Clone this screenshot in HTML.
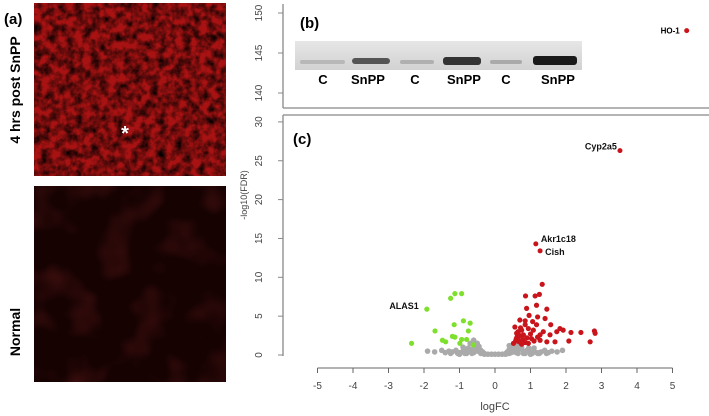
<!DOCTYPE html>
<html><head><meta charset="utf-8"><style>
body{margin:0;background:#fff;width:709px;height:416px;overflow:hidden;font-family:"Liberation Sans",sans-serif}
svg{display:block}
</style></head><body>
<svg id="fig" width="709" height="416">
<defs>
<filter id="tex1" x="0" y="0" width="100%" height="100%">
<feTurbulence type="fractalNoise" baseFrequency="0.12" numOctaves="3" seed="4"/>
<feColorMatrix type="matrix" values="0 0 0 0 0  0 0 0 0 0  0 0 0 0 0  1.8 0 0 0 -0.6"/>
</filter>
<filter id="tex2" x="0" y="0" width="100%" height="100%">
<feTurbulence type="fractalNoise" baseFrequency="0.03" numOctaves="2" seed="9"/>
<feColorMatrix type="matrix" values="0 0 0 0 0.25  0 0 0 0 0.02  0 0 0 0 0.02  0.8 0 0 0 -0.4"/>
</filter>
<linearGradient id="blot" x1="0" y1="0" x2="0" y2="1">
<stop offset="0" stop-color="#e6e6e6"/><stop offset="1" stop-color="#d2d2d2"/>
</linearGradient>
</defs>
<text x="4" y="24" font-size="15" font-weight="bold">(a)</text>
<text transform="translate(20,90) rotate(-90)" text-anchor="middle" font-size="14" font-weight="bold">4 hrs post SnPP</text>
<text transform="translate(20,332) rotate(-90)" text-anchor="middle" font-size="14" font-weight="bold">Normal</text>
<g>
<rect x="34" y="3" width="192" height="173" fill="#a81212"/>
<rect x="34" y="3" width="192" height="173" fill="#2a0000" filter="url(#tex1)"/>
<text x="125" y="140" fill="#fff" font-size="20" font-weight="bold" text-anchor="middle">*</text>
</g>
<g>
<rect x="34" y="186" width="192" height="196" fill="#170202"/>
<rect x="34" y="186" width="192" height="196" filter="url(#tex2)"/>
</g>
<g id="axes"></g>
<g>
<rect x="295" y="41" width="287" height="29" fill="url(#blot)"/>
<rect x="300" y="60" width="45" height="4" fill="#b8b8b8" rx="2"/>
<rect x="352" y="58" width="38" height="6" fill="#555" rx="3"/>
<rect x="400" y="60" width="34" height="4" fill="#b0b0b0" rx="2"/>
<rect x="443" y="57" width="38" height="8" fill="#333" rx="3"/>
<rect x="490" y="60" width="32" height="4" fill="#aaa" rx="2"/>
<rect x="533" y="56" width="44" height="9" fill="#1a1a1a" rx="3"/>
</g>
<g font-size="13" font-weight="bold" text-anchor="middle">
<text x="323" y="84">C</text><text x="368" y="84">SnPP</text><text x="415" y="84">C</text><text x="464" y="84">SnPP</text><text x="506" y="84">C</text><text x="558" y="84">SnPP</text>
</g>
<text x="300" y="28" font-size="15" font-weight="bold">(b)</text>
<text x="293" y="144" font-size="15" font-weight="bold">(c)</text>
<g id="pts"></g>
</svg>
<script>
const xTicks=[-5,-4,-3,-2,-1,0,1,2,3,4,5];
const yTicks=[0,5,10,15,20,25,30];
const yTicksTop=[140,145,150];
const greenX=[-2.35,-1.92,-1.69,-1.48,-1.39,-1.25,-1.13,-0.94,-1.15,-0.89,-0.70,-0.75,-1.20,-1.13,-0.80,-0.99,-0.61,-0.94];
const greenY=[1.5,5.9,3.1,1.9,1.7,7.3,7.9,7.9,3.9,4.4,4.1,3.1,2.4,2.3,2.0,1.5,1.3,2.0];
const redX=[1.33,0.86,1.13,1.25,1.17,1.46,0.89,0.96,1.20,1.41,0.70,0.85,1.06,1.17,1.57,1.83,1.92,2.14,2.42,2.80,2.82,2.08,2.68,1.69,1.46,1.27,1.03,0.66,0.61,0.75,0.94,1.08,1.36,1.55,0.80,0.56,0.68,0.94,0.52,0.85,1.27,1.74,0.62,0.70,0.78,0.65,0.72,0.90,1.00,0.58,0.85,1.10,1.20,0.60,0.75];
const redY=[9.1,7.6,7.6,7.8,6.4,5.9,6.0,5.1,4.9,4.7,4.5,4.4,4.3,3.9,3.9,3.4,3.2,2.9,2.9,3.1,2.8,1.8,1.7,1.7,1.7,1.9,2.1,1.9,2.8,3.2,3.4,3.2,3.0,2.6,2.6,3.6,1.7,1.5,1.5,3.9,2.6,3.0,2.3,2.5,2.0,3.0,3.5,2.2,2.7,1.8,1.6,1.8,2.3,2.1,1.4];
const greyX=[-1.9,-1.7,-1.5,-1.4,-1.3,-1.2,-1.1,-1.0,-0.9,-0.8,-0.7,-0.6,-0.55,-0.5,-0.45,-0.4,-0.35,-0.3,-0.2,-0.1,0,0.1,0.2,0.3,0.35,0.4,0.45,0.5,0.55,0.6,0.7,0.8,0.9,1.0,1.1,1.2,1.3,1.4,1.5,1.6,1.75,1.9,-1.0,-0.8,-0.6,-0.5,-0.4,-0.3,0.3,0.4,0.5,0.6,0.8,1.0,1.2,-0.7,-0.6,0.45,0.55,0.65,-0.9,-0.5,0.4,0.7,1.1,-1.25,-1.05,-0.85,-0.65,0.65,0.85,1.05,1.25,1.45,-0.75,0.75,0.95];
const greyY=[0.5,0.4,0.6,0.3,0.5,0.4,0.6,0.3,0.5,0.7,0.5,0.9,1.2,1.5,1.1,0.6,0.4,0.2,0.1,0.1,0.1,0.1,0.1,0.2,0.4,0.7,1.0,1.3,1.5,1.1,0.8,0.5,0.6,0.4,0.5,0.3,0.4,0.6,0.3,0.5,0.4,0.6,0.1,0.2,0.3,0.5,0.2,0.1,0.1,0.2,0.4,0.3,0.2,0.1,0.2,1.5,1.9,0.3,0.8,0.6,1.0,0.8,1.2,1.3,0.9,0.2,0.2,0.2,0.2,0.2,0.2,0.2,0.2,0.2,0.9,1.0,0.9];
const hoX=[5.4], hoY=[147.8];
const labelNames=["Cyp2a5","Akr1c18","Cish","ALAS1"];
const labelX=[3.52,1.15,1.27,-1.92];
const labelY=[26.3,14.3,13.4,5.9];
const NS="http://www.w3.org/2000/svg";
const xs=v=>495+v*35.5;
const ys=v=>355-v*7.77;
const yt=v=>93-(v-140)*8;
const ax=document.getElementById('axes'), pts=document.getElementById('pts');
function mk(tag,attrs,parent){const e=document.createElementNS(NS,tag);for(const k in attrs)e.setAttribute(k,attrs[k]);parent.appendChild(e);return e;}
mk('line',{x1:283,y1:4,x2:283,y2:108,stroke:'#888','stroke-width':1.3},ax);
mk('line',{x1:283,y1:108,x2:709,y2:108,stroke:'#888','stroke-width':1.3},ax);
mk('line',{x1:283,y1:115,x2:709,y2:115,stroke:'#888','stroke-width':1.3},ax);
const ya=mk('line',{x1:283,y1:115,x2:283,y2:356,stroke:'#888','stroke-width':1.3},ax);

const xa=mk('line',{x1:xs(-5),y1:368,x2:xs(5),y2:368,stroke:'#666','stroke-width':1},ax);

xTicks.forEach(t=>{
 mk('line',{x1:xs(t),y1:368,x2:xs(t),y2:373,stroke:'#666'},ax);
 const tx=mk('text',{x:xs(t),y:389,'font-size':10,'text-anchor':'middle',fill:'#444'},ax);tx.textContent=t;
 
});
yTicks.forEach(t=>{
 mk('line',{x1:278,y1:ys(t),x2:283,y2:ys(t),stroke:'#888'},ax);
 const tx=mk('text',{transform:`translate(262,${ys(t)}) rotate(-90)`,'font-size':10,'text-anchor':'middle',fill:'#444'},ax);tx.textContent=t;
 
});
yTicksTop.forEach(t=>{
 mk('line',{x1:278,y1:yt(t),x2:283,y2:yt(t),stroke:'#888'},ax);
 const tx=mk('text',{transform:`translate(262,${yt(t)}) rotate(-90)`,'font-size':10,'text-anchor':'middle',fill:'#444'},ax);tx.textContent=t;
 
});
const yl=mk('text',{transform:'translate(247,195) rotate(-90)','font-size':9,'text-anchor':'middle',fill:'#444'},ax);yl.textContent='-log10(FDR)';

const xl=mk('text',{x:495,y:410,'font-size':11,'text-anchor':'middle',fill:'#444'},ax);xl.textContent='logFC';

greyX.forEach((v,i)=>{const c=mk('circle',{cx:xs(v),cy:ys(greyY[i]),r:2.8,fill:'#aaa'},pts);
 });
greenX.forEach((v,i)=>{const c=mk('circle',{cx:xs(v),cy:ys(greenY[i]),r:2.6,fill:'#7ee02c'},pts);
 });
redX.forEach((v,i)=>{const c=mk('circle',{cx:xs(v),cy:ys(redY[i]),r:2.6,fill:'#c8141a'},pts);
 });
labelNames.forEach((n,i)=>{
 if(i<3){const c=mk('circle',{cx:xs(labelX[i]),cy:ys(labelY[i]),r:2.5,fill:'#c8141a'},pts);
  }
 const off=[[-3,-1,'end'],[5,-2,'start'],[5,4,'start'],[-8,0,'end']][i];
 const t=mk('text',{x:xs(labelX[i])+off[0],y:ys(labelY[i])+off[1],'font-size':9,'font-weight':'bold','text-anchor':off[2],fill:'#111'},pts);
 t.textContent=n;
});
hoX.forEach((v,i)=>{const c=mk('circle',{cx:xs(v),cy:yt(hoY[i]),r:2.5,fill:'#c8141a'},pts);
 
 const t=mk('text',{x:xs(v)-7,y:yt(hoY[i])+3,'font-size':8,'font-weight':'bold','text-anchor':'end'},pts);t.textContent='HO-1';
 });
</script>
</body></html>
